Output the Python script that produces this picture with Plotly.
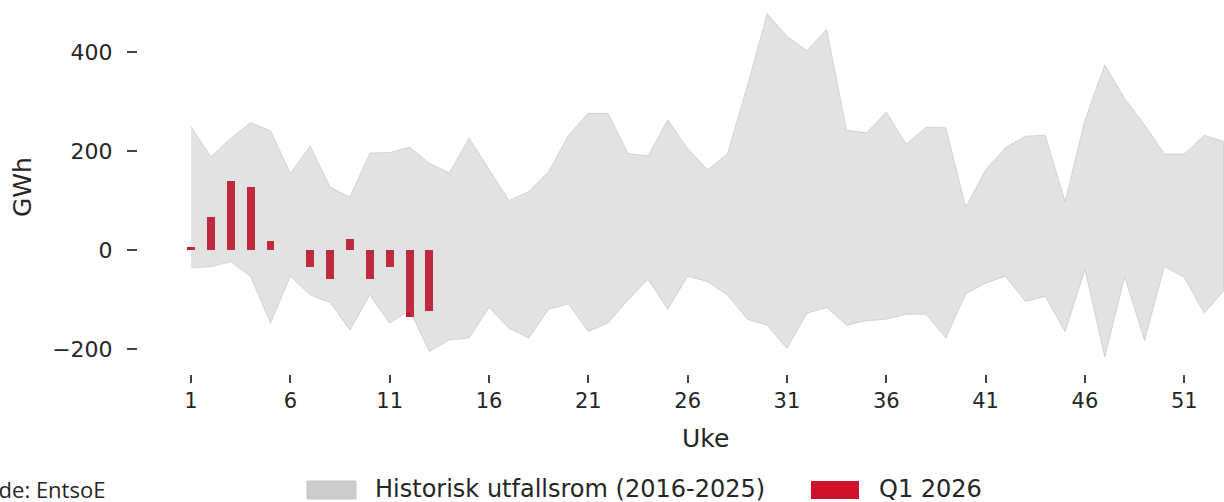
import plotly.graph_objects as go

weeks = list(range(1, 54))
hist_upper = [249, 188, 226, 257, 241, 155, 210, 127, 107, 196, 197, 208, 175,
              156, 226, 164, 100, 118, 158, 232, 276, 276, 195, 190, 263, 205,
              162, 194, 331, 477, 432, 403, 446, 242, 237, 279, 214, 248, 247,
              87, 162, 207, 230, 232, 98, 263, 374, 306, 253, 194, 194, 232, 219]
hist_lower = [-36, -34, -24, -54, -148, -53, -91, -106, -162, -91, -148, -122, -205,
              -182, -178, -116, -158, -178, -120, -109, -165, -147, -101, -59, -120, -53,
              -64, -91, -140, -152, -199, -128, -116, -152, -143, -140, -130, -130, -178,
              -89, -67, -53, -104, -94, -165, -40, -216, -55, -183, -34, -55, -128, -82]
q1_weeks = list(range(1, 14))
q1_values = [7, 66, 140, 128, 19, 0, -34, -58, 23, -58, -34, -136, -123]
x_ticks = [1, 6, 11, 16, 21, 26, 31, 36, 41, 46, 51]
band_name = "Historisk utfallsrom (2016-2025)"
bar_name = "Q1 2026"
band_color = "rgba(128,128,128,0.23)"
bar_color = "#D0112B"

W, H = 1224, 502
L, R, T, B = 138, 0, 0, 128
pw, ph = W - L - R, H - T - B


def px(x):
    return (x - L) / pw


def py(y):
    return (H - B - y) / ph


fig = go.Figure()
fig.add_trace(go.Bar(
    x=q1_weeks, y=q1_values, name=bar_name, width=0.4,
    marker=dict(color=bar_color, line=dict(width=0)),
    showlegend=False,
))
fig.add_trace(go.Scatter(
    x=weeks + weeks[::-1], y=hist_upper + hist_lower[::-1],
    fill="toself", fillcolor=band_color,
    line=dict(color="rgba(150,150,150,0.3)", width=1),
    mode="lines", name=band_name, showlegend=False, hoverinfo="skip",
))

font_main = "DejaVu Sans"
txt_color = "#262626"

shapes = [
    dict(type="rect", xref="paper", yref="paper",
         x0=px(307), x1=px(356), y0=py(499), y1=py(481),
         fillcolor="#CCCCCC", line=dict(color="#C4C4C4", width=1)),
    dict(type="rect", xref="paper", yref="paper",
         x0=px(811), x1=px(859), y0=py(499), y1=py(481),
         fillcolor=bar_color, line=dict(width=0)),
]

annotations = [
    dict(text="Uke", xref="paper", yref="paper",
         x=px(705), y=py(438), xanchor="center", yanchor="middle",
         showarrow=False, font=dict(family=font_main, size=25, color=txt_color)),
    dict(text="GWh", xref="paper", yref="paper", textangle=-90,
         x=px(22), y=py(187), xanchor="center", yanchor="middle",
         showarrow=False, font=dict(family=font_main, size=25, color=txt_color)),
    dict(text="Kilde: EntsoE", xref="paper", yref="paper",
         x=px(107), y=py(489), xanchor="right", yanchor="middle",
         showarrow=False, font=dict(family="Open Sans", size=22, color=txt_color)),
    dict(text=band_name, xref="paper", yref="paper",
         x=px(373), y=py(489), xanchor="left", yanchor="middle",
         showarrow=False, font=dict(family=font_main, size=24, color=txt_color)),
    dict(text=bar_name, xref="paper", yref="paper",
         x=px(877), y=py(489), xanchor="left", yanchor="middle",
         showarrow=False, font=dict(family=font_main, size=24, color=txt_color)),
]

fig.update_layout(
    width=W, height=H,
    margin=dict(l=L, r=R, t=T, b=B, autoexpand=False),
    plot_bgcolor="white", paper_bgcolor="white",
    showlegend=False,
    bargap=0,
    xaxis=dict(
        range=[-1.67, 53.0], tickmode="array", tickvals=x_ticks,
        ticks="outside", ticklen=8, tickwidth=1.5, tickcolor="#444",
        showgrid=False, zeroline=False, showline=False,
        tickfont=dict(family=font_main, size=21, color=txt_color),
    ),
    yaxis=dict(
        range=[-250.5, 505], tickmode="array", tickvals=[-200, 0, 200, 400],
        ticktext=["\u2212200", "0", "200", "400"],
        ticks="outside", ticklen=10, tickwidth=1.5, tickcolor="#444",
        ticklabelstandoff=10,
        showgrid=False, zeroline=False, showline=False,
        tickfont=dict(family=font_main, size=22, color=txt_color),
    ),
    shapes=shapes,
    annotations=annotations,
)

fig.write_html("out.html", config={"displayModeBar": False},
               post_script="document.body.style.margin='0';")
